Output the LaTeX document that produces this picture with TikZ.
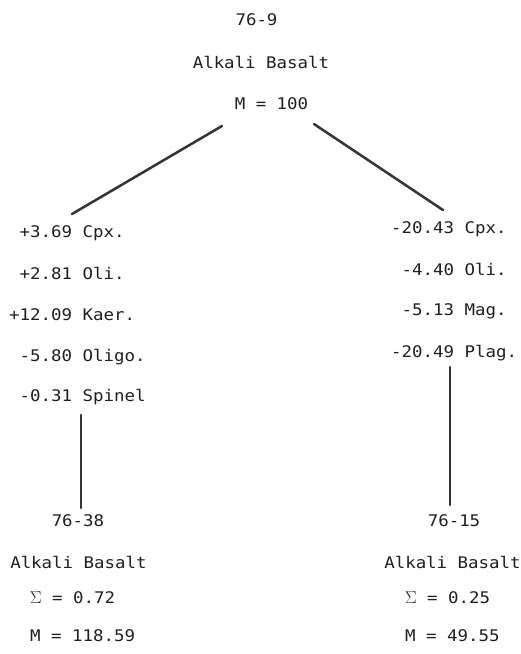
\documentclass[tikz,border=0pt]{standalone}
\usepackage{fontspec}
\newfontfamily\tw[FakeStretch=1.09]{DejaVu Sans Mono}
\begin{document}
\begin{tikzpicture}[x=1pt,y=-1pt,
  txt/.style={inner sep=0pt, font=\tw\fontsize{16}{19}\selectfont, text=black!88},
  ctr/.style={txt, anchor=base},
  lft/.style={txt, anchor=base west},
  link/.style={draw=black!80, line width=2.5pt, line cap=round}]
\useasboundingbox (0,0) rectangle (521,654);
% top
\node[ctr] (t1) at (256.5,25.5) {76-9};
\node[ctr] (t2) at (261,68.5) {Alkali Basalt};
\node[ctr] (t3) at (271.5,109.5) {M = 100};
% left column
\node[lft] (l1) at (9,237.5) {\phantom{+}+3.69 Cpx.};
\node[lft] (l2) at (9,279.5) {\phantom{+}+2.81 Oli.};
\node[lft] (l3) at (9,320.5) {+12.09 Kaer.};
\node[lft] (l4) at (9,361.5) {\phantom{+}-5.80 Oligo.};
\node[lft] (l5) at (9,401.5) {\phantom{+}-0.31 Spinel};
% right column
\node[lft] (r1) at (391,233.5) {-20.43 Cpx.};
\node[lft] (r2) at (391,275.5) {\phantom{-}-4.40 Oli.};
\node[lft] (r3) at (391,315.5) {\phantom{-}-5.13 Mag.};
\node[lft] (r4) at (391,357.5) {-20.49 Plag.};
% bottom left
\node[ctr] (b1) at (78,526.5) {76-38};
\node[ctr] (b2) at (78.5,568.5) {Alkali Basalt};
\node[lft] (b3) at (30,603.5) {$\Sigma$ = 0.72};
\node[lft] (b4) at (30,641.5) {M = 118.59};
% bottom right
\node[ctr] (c1) at (454,526.5) {76-15};
\node[ctr] (c2) at (452.5,568.5) {Alkali Basalt};
\node[lft] (c3) at (405,603.5) {$\Sigma$ = 0.25};
\node[lft] (c4) at (405,641.5) {M = 49.55};
% connector ends
\coordinate (pA) at (222,126);
\coordinate (pB) at (72,214);
\coordinate (pC) at (314,124);
\coordinate (pD) at (443,210);
\coordinate (pE) at (81,415);
\coordinate (pF) at (81,508);
\coordinate (pG) at (450,367);
\coordinate (pH) at (450,505);
\draw[link] (pA) -- (pB);
\draw[link] (pC) -- (pD);
\draw[link] (pE) -- (pF);
\draw[link] (pG) -- (pH);
\end{tikzpicture}
\end{document}
